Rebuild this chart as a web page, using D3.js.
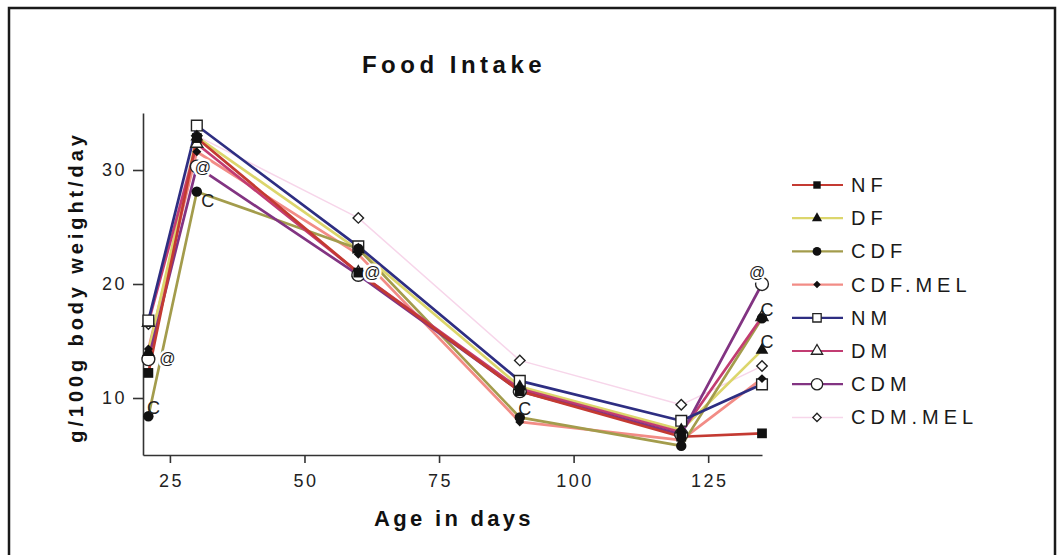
<!DOCTYPE html>
<html>
<head>
<meta charset="utf-8">
<script src="https://cdn.jsdelivr.net/npm/d3@7"></script>
<style>
  html, body { margin: 0; padding: 0; background: #fff; }
  svg { display: block; font-family: "Liberation Sans", Arial, Helvetica, sans-serif; }
</style>
</head>
<body>
<svg id="chart" width="1063" height="555"></svg>
<script>
// ---- data ----
const days = [21, 30, 60, 90, 120, 135];
const seriesNames = ["NF", "DF", "CDF", "CDF.MEL", "NM", "DM", "CDM", "CDM.MEL"];
const NF      = [12.2, 32.8, 21.0, 10.6, 6.6, 6.9];
const DF      = [14.0, 32.9, 23.0, 11.0, 7.2, 14.2];
const CDF     = [8.4, 28.1, 23.1, 8.3, 5.8, 17.0];
const CDF_MEL = [14.3, 31.6, 22.6, 7.9, 6.3, 11.7];
const NM      = [16.8, 33.9, 23.3, 11.5, 8.0, 11.2];
const DM      = [16.6, 32.3, 21.0, 10.8, 7.0, 17.1];
const CDM     = [13.4, 30.3, 20.8, 10.6, 6.8, 20.0];
const CDM_MEL = [16.5, 33.0, 25.8, 13.3, 9.4, 12.8];
const seriesValues = [NF, DF, CDF, CDF_MEL, NM, DM, CDM, CDM_MEL];
const xTicks = [25, 50, 75, 100, 125];
const yTicks = [10, 20, 30];
// significance marks: series, point index, label, placement
const annotations = [
  { series: "CDF", i: 0, label: "C", place: "upright" },
  { series: "CDM", i: 0, label: "@", place: "right" },
  { series: "CDM", i: 1, label: "@", place: "nearright" },
  { series: "CDF", i: 1, label: "C", place: "downright" },
  { series: "CDM", i: 2, label: "@", place: "right2" },
  { series: "CDF", i: 3, label: "C", place: "upright" },
  { series: "CDM", i: 5, label: "@", place: "above" },
  { series: "CDF", i: 5, label: "C", place: "upright" },
  { series: "DF",  i: 5, label: "C", place: "upright" }
];

// ---- styles ----
const styles = {
  "NF":      { color: "#c43a32", sym: "square",   fill: "#111", open: false, w: 2.7 },
  "DF":      { color: "#dcd66c", sym: "triangle", fill: "#111", open: false, w: 2.7 },
  "CDF":     { color: "#a39c4c", sym: "circle",   fill: "#111", open: false, w: 2.7 },
  "CDF.MEL": { color: "#f28c86", sym: "diamond",  fill: "#111", open: false, w: 2.7 },
  "NM":      { color: "#2e2e82", sym: "square",   fill: "#fff", open: true,  w: 2.7 },
  "DM":      { color: "#c23c72", sym: "triangle", fill: "#fff", open: true,  w: 2.7 },
  "CDM":     { color: "#823482", sym: "circle",   fill: "#fff", open: true,  w: 2.7 },
  "CDM.MEL": { color: "#f7d6ea", sym: "diamond",  fill: "#fff", open: true,  w: 1.5 }
};
const placeOffsets = {
  upright: [5, -8], right: [19, -1], nearright: [6, 1], downright: [11, 9],
  right2: [14, -2], above: [-5, -12]
};

const svg = d3.select("#chart");
svg.append("rect").attr("width", 1063).attr("height", 555).attr("fill", "#fff");
// outer frame
svg.append("rect").attr("x", 9).attr("y", 8).attr("width", 1046).attr("height", 570)
  .attr("fill", "none").attr("stroke", "#1a1a1a").attr("stroke-width", 2.5);

const x = d3.scaleLinear().domain([20, 135]).range([143, 762]);
const y = d3.scaleLinear().domain([5, 35]).range([455, 113]);

function symbolPath(kind, size) {
  if (kind === "square") return d3.symbol(d3.symbolSquare, size)();
  if (kind === "triangle") return d3.symbol(d3.symbolTriangle, size)();
  if (kind === "circle") return d3.symbol(d3.symbolCircle, size)();
  if (kind === "diamond") return d3.symbol(d3.symbolSquare, size)();
}
const markerSize = {
  square: { f: 95, o: 115 }, triangle: { f: 70, o: 62 },
  circle: { f: 85, o: 130 }, diamond: { f: 40, o: 55 }
};

// axes
const xAxis = d3.axisBottom(x).tickValues(xTicks).tickSize(8).tickSizeOuter(0).tickPadding(11);
const yAxis = d3.axisLeft(y).tickValues(yTicks).tickSize(10).tickSizeOuter(0).tickPadding(6);
const gx = svg.append("g").attr("transform", "translate(0,455)").call(xAxis);
const gy = svg.append("g").attr("transform", "translate(143,0)").call(yAxis);
[gx, gy].forEach(g => {
  g.select(".domain").attr("stroke", "#333").attr("stroke-width", 1.6);
  g.selectAll(".tick line").attr("stroke", "#333").attr("stroke-width", 1.6);
  g.selectAll(".tick text").attr("fill", "#222").style("font-size", "18px")
    .style("letter-spacing", "2.5px").style("font-family", '"Liberation Sans", Arial, sans-serif');
});
gx.selectAll(".tick text").attr("dx", "1px");

// lines
const line = d3.line().x((d, i) => x(days[i])).y(d => y(d));
const drawOrder = ["CDM.MEL", "CDF.MEL", "DF", "CDF", "DM", "CDM", "NF", "NM"];
drawOrder.forEach(name => {
  const vals = seriesValues[seriesNames.indexOf(name)];
  const st = styles[name];
  svg.append("path").datum(vals).attr("d", line)
    .attr("fill", "none").attr("stroke", st.color).attr("stroke-width", st.w)
    .attr("stroke-linejoin", "round");
});
// markers: open ones first, filled on top
const markerOrder = ["CDM.MEL", "DM", "CDM", "NM", "DF", "CDF.MEL", "CDF", "NF"];
markerOrder.forEach(name => {
  const vals = seriesValues[seriesNames.indexOf(name)];
  const st = styles[name];
  const sz = markerSize[st.sym][st.open ? "o" : "f"];
  svg.append("g").selectAll("path").data(vals).join("path")
    .attr("d", symbolPath(st.sym, sz))
    .attr("transform", (d, i) => `translate(${x(days[i])},${y(d)})` + (st.sym === "diamond" ? " rotate(45)" : ""))
    .attr("fill", st.fill)
    .attr("stroke", st.open ? "#222" : "none")
    .attr("stroke-width", 1.4);
});
// annotations ("@" drawn with a white halo)
annotations.forEach(a => {
  const vals = seriesValues[seriesNames.indexOf(a.series)];
  const off = placeOffsets[a.place];
  const t = svg.append("text")
    .attr("x", x(days[a.i]) + off[0]).attr("y", y(vals[a.i]) + off[1])
    .attr("text-anchor", "middle").attr("dominant-baseline", "central")
    .attr("fill", "#222")
    .style("font-size", a.label === "@" ? "16px" : "18px")
    .text(a.label);
  if (a.label === "@") {
    t.attr("stroke", "#fff").attr("stroke-width", 5).attr("stroke-linejoin", "round")
      .style("paint-order", "stroke");
  }
});

// title & axis labels
svg.append("text").attr("x", 454).attr("y", 73).attr("text-anchor", "middle")
  .style("font-size", "24px").style("font-weight", "bold").style("letter-spacing", "4.5px")
  .attr("fill", "#111").text("Food Intake");
svg.append("text").attr("x", 454).attr("y", 526).attr("text-anchor", "middle")
  .style("font-size", "22px").style("font-weight", "bold").style("letter-spacing", "3.3px")
  .attr("fill", "#111").text("Age in days");
svg.append("text").attr("transform", "translate(83,287) rotate(-90)").attr("text-anchor", "middle")
  .style("font-size", "20px").style("font-weight", "bold").style("letter-spacing", "3.9px")
  .attr("fill", "#111").text("g/100g body weight/day");

// legend
const legend = svg.append("g");
seriesNames.forEach((name, k) => {
  const st = styles[name];
  const ly = 185 + k * 33.2;
  legend.append("line").attr("x1", 792).attr("x2", 843).attr("y1", ly).attr("y2", ly)
    .attr("stroke", st.color).attr("stroke-width", name === "CDM.MEL" ? 1.5 : 2.2);
  const lsz = { square: { f: 55, o: 70 }, triangle: { f: 45, o: 55 }, circle: { f: 60, o: 100 }, diamond: { f: 28, o: 34 } }[st.sym][st.open ? "o" : "f"];
  legend.append("path").attr("d", symbolPath(st.sym, lsz))
    .attr("transform", `translate(817,${ly})` + (st.sym === "diamond" ? " rotate(45)" : ""))
    .attr("fill", st.fill).attr("stroke", st.open ? "#222" : "none").attr("stroke-width", 1.3);
  legend.append("text").attr("x", 851).attr("y", ly + 7)
    .style("font-size", "20px").style("letter-spacing", "5px").attr("fill", "#1a1a1a")
    .text(name);
});
</script>
</body>
</html>
